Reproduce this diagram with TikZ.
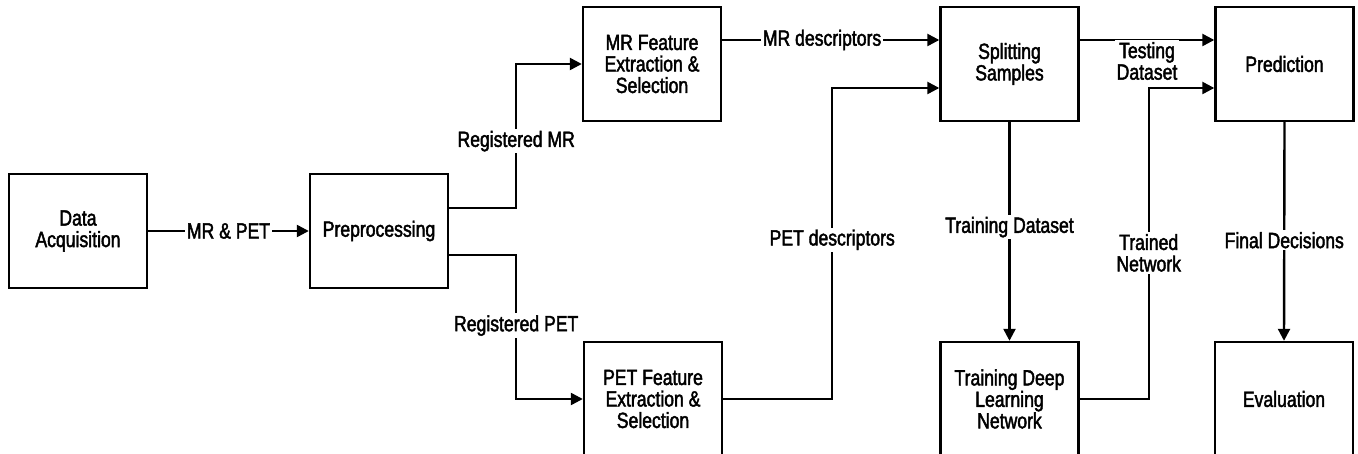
\documentclass[tikz,border=0pt]{standalone}
\usepackage{fontspec}
\setmainfont{Liberation Sans}[FakeStretch=0.8, FakeBold=2]
\usetikzlibrary{arrows.meta}
\begin{document}
\begin{tikzpicture}[x=1pt,y=-1pt,
  every node/.style={font=\fontsize{22}{21.5}\selectfont, align=center},
  block/.style={draw, line width=2.4pt, minimum width=138pt, minimum height=114pt, inner sep=2pt},
  conn/.style={line width=2.4pt},
  arr/.style={conn, -{Triangle[length=12pt,width=12pt]}},
  lab/.style={fill=white, inner sep=2pt}]
\useasboundingbox (0,0) rectangle (1358,454);

% process blocks
\node[block] (da)   at (78,231)    {Data\\Acquisition};
\node[block] (pre)  at (379,231)   {Preprocessing};
\node[block] (mrf)  at (652,64)    {MR Feature\\Extraction \&\\Selection};
\node[block] (petf) at (653,399)   {PET Feature\\Extraction \&\\Selection};
\node[block] (spl)  at (1009.5,64) {Splitting\\Samples};
\node[block] (tdl)  at (1009.5,399){Training Deep\\Learning\\Network};
\node[block] (pred) at (1284.5,64) {Prediction};
\node[block] (eval) at (1284,399)  {Evaluation};

% data flow
\draw[arr] (da) -- node[lab] {MR \& PET} (pre);
\draw[arr] ([yshift=23pt]pre.east) -- ++(67,0)
  |- node[lab, pos=0.232] {Registered MR} (mrf.west);
\draw[arr] ([yshift=-24pt]pre.east) -- ++(67,0)
  |- node[lab, pos=0.245] {Registered PET} (petf.west);
\draw[arr] ([yshift=24pt]mrf.east) -- node[lab, pos=0.46] {MR descriptors} ([yshift=24pt]spl.west);
\draw[arr] (petf.east) -- ++(109,0)
  |- node[lab, pos=0.256] {PET descriptors} ([yshift=-24pt]spl.west);
\draw[arr] ([yshift=24pt]spl.east) -- node[lab, yshift=-21pt] {Testing\\Dataset} ([yshift=24pt]pred.west);
\draw[arr] (spl.south) -- node[lab, pos=0.48] {Training Dataset} (tdl.north);
\draw[arr] (tdl.east) -- ++(69,0)
  |- node[lab, pos=0.235] {Trained\\Network} ([yshift=-24pt]pred.west);
\draw[arr] (pred.south) -- node[lab, pos=0.54] {Final Decisions} (eval.north);
\end{tikzpicture}
\end{document}
